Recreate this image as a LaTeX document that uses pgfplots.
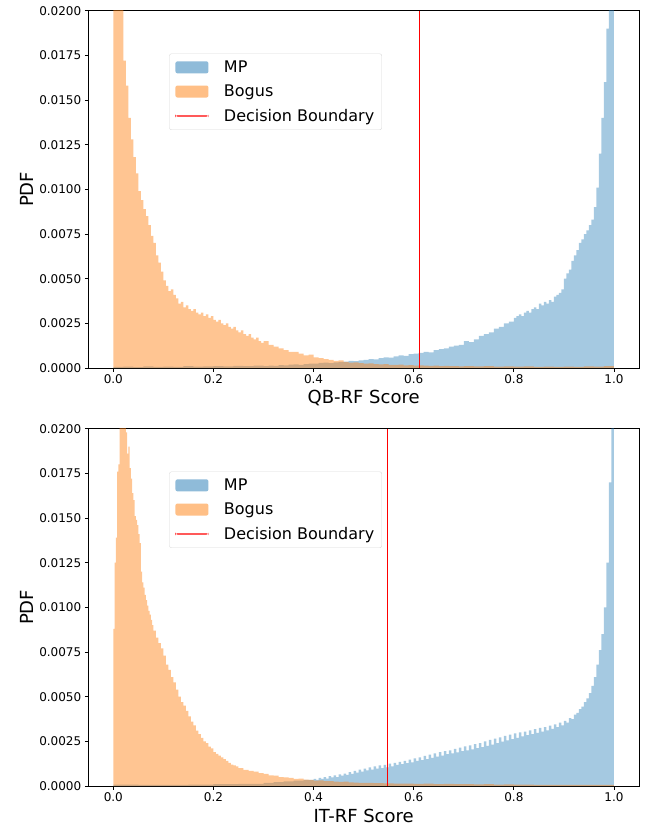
\documentclass[border=0pt]{standalone}
\usepackage{pgfplots}
\pgfplotsset{compat=1.18}
\usepackage{fontspec}
\setmainfont{DejaVu Sans}

\definecolor{tabblue}{HTML}{1F77B4}
\definecolor{taborange}{HTML}{FF7F0E}
\definecolor{legblue}{RGB}{143,187,217}
\definecolor{legorange}{RGB}{255,191,134}
\definecolor{dbred}{RGB}{255,0,0}

\pgfplotsset{
  myaxis/.style={
    scale only axis, width=550.7pt, height=357.3pt,
    anchor=south west,
    xmin=-0.05, xmax=1.05, ymin=0, ymax=0.02,
    xtick={0,0.2,0.4,0.6,0.8,1.0},
    ytick={0,0.0025,0.005,0.0075,0.01,0.0125,0.015,0.0175,0.02},
    scaled y ticks=false, scaled x ticks=false,
    x tick label style={/pgf/number format/.cd, fixed, fixed zerofill, precision=1},
    y tick label style={/pgf/number format/.cd, fixed, fixed zerofill, precision=4},
    /pgf/number format/assume math mode=true,
    tick label style={font=\fontsize{12}{14}\selectfont},
    label style={font=\fontsize{18}{21}\selectfont},
    x label style={at={(axis description cs:0.5,-0.084)}, anchor=center},
    y label style={at={(axis description cs:-0.111,0.5)}, anchor=center},
    ylabel={PDF},
    tick align=outside, tick pos=left, major tick length=3.5pt,
    every tick/.style={black, line width=0.8pt},
    axis line style={line width=0.8pt},
    legend cell align=left,
    legend style={at={(0.147,0.880)}, anchor=north west, draw=black!15,
      rounded corners=2pt, fill=white, fill opacity=0.8, text opacity=1,
      font=\fontsize{16}{19}\selectfont, inner xsep=6pt, inner ysep=5.5pt,
      row sep=8pt, column sep=14pt, nodes={inner sep=1.5pt}},
  },
  mphist/.style={const plot, fill=tabblue, fill opacity=0.4, draw=none,
    legend image code/.code={\fill[legblue, fill opacity=1, draw=none] (0pt,-6pt) rectangle (33pt,6pt);}},
  boghist/.style={const plot, fill=taborange, fill opacity=0.45, draw=none,
    legend image code/.code={\fill[legorange, fill opacity=1, draw=none] (0pt,-6pt) rectangle (33pt,6pt);}},
  dbline/.style={draw=dbred, line width=1pt,
    legend image code/.code={\fill[dbred, fill opacity=1, draw=none] (0pt,-0.6pt) rectangle (33pt,0.6pt);}},
}

\begin{document}
\begin{tikzpicture}
\useasboundingbox (0,0) rectangle (648pt,-829pt);

% ---------------- Top: QB-RF ----------------
\begin{axis}[myaxis, at={(88.3pt,-368pt)}, xlabel={QB-RF Score}]
\addplot[mphist] coordinates {
(0.00,0.00006) (0.02,0.00008) (0.04,0.00005) (0.06,0.00009) (0.08,0.00006)
(0.10,0.00008) (0.12,0.00007) (0.14,0.00010) (0.16,0.00008) (0.18,0.00009)
(0.20,0.00010) (0.22,0.00009) (0.24,0.00012) (0.26,0.00010) (0.28,0.00013)
(0.30,0.00010) (0.31,0.00013) (0.32,0.00012) (0.33,0.00016) (0.34,0.00015)
(0.35,0.00019) (0.36,0.00020) (0.37,0.00018) (0.38,0.00022) (0.39,0.00024)
(0.40,0.00025) (0.41,0.00029) (0.42,0.00030) (0.43,0.00028) (0.44,0.00032)
(0.45,0.00035) (0.46,0.00036) (0.47,0.00040) (0.48,0.00038) (0.49,0.00043)
(0.50,0.00045) (0.51,0.00050) (0.52,0.00048) (0.53,0.00055) (0.54,0.00060)
(0.55,0.00058) (0.56,0.00065) (0.57,0.00070) (0.58,0.00068) (0.59,0.00078)
(0.60,0.00080) (0.61,0.00085) (0.62,0.00090) (0.63,0.00088) (0.64,0.00100)
(0.65,0.00105) (0.66,0.00110) (0.67,0.00120) (0.68,0.00125) (0.69,0.00130)
(0.70,0.00150) (0.71,0.00145) (0.72,0.00160) (0.73,0.00180) (0.74,0.00190)
(0.75,0.00200) (0.76,0.00220) (0.77,0.00230) (0.78,0.00250) (0.79,0.00260)
(0.800,0.00280) (0.805,0.00290) (0.810,0.00300) (0.815,0.00290) (0.820,0.00310)
(0.825,0.00320) (0.830,0.00310) (0.835,0.00330) (0.840,0.00340) (0.845,0.00330)
(0.850,0.00360) (0.855,0.00350) (0.860,0.00370) (0.865,0.00360) (0.870,0.00380)
(0.875,0.00370) (0.880,0.00400) (0.885,0.00410) (0.890,0.00420) (0.895,0.00440)
(0.900,0.00500) (0.905,0.00530) (0.910,0.00550) (0.915,0.00600) (0.920,0.00630)
(0.925,0.00660) (0.930,0.00700) (0.935,0.00720) (0.940,0.00750) (0.945,0.00770)
(0.950,0.00800) (0.955,0.00830) (0.960,0.00900) (0.965,0.01010) (0.970,0.01200)
(0.975,0.01400) (0.980,0.01600) (0.985,0.01900) (0.990,0.03000) (0.995,0.03000)
(1.000,0.03000)
} \closedcycle;
\addlegendentry{MP}
\addplot[boghist] coordinates {
(0.000,0.0300) (0.005,0.0300) (0.010,0.0300) (0.015,0.0300) (0.020,0.0172)
(0.025,0.0158) (0.030,0.0140) (0.035,0.0128) (0.040,0.0118) (0.045,0.0109)
(0.050,0.0099) (0.055,0.0094) (0.060,0.0089) (0.065,0.0085) (0.070,0.0080)
(0.075,0.0074) (0.080,0.0070) (0.085,0.0063) (0.090,0.0059) (0.095,0.0054)
(0.100,0.0049) (0.105,0.0046) (0.110,0.0043) (0.115,0.0044) (0.120,0.0041)
(0.125,0.0039) (0.130,0.0036) (0.135,0.0037) (0.140,0.0034) (0.145,0.0035)
(0.150,0.0033) (0.155,0.0032) (0.160,0.0033) (0.165,0.0031) (0.170,0.0030)
(0.175,0.0031) (0.180,0.0029) (0.185,0.0030) (0.190,0.0028) (0.195,0.0029)
(0.200,0.0027) (0.205,0.0026) (0.210,0.0027) (0.215,0.0025) (0.220,0.0024)
(0.225,0.0025) (0.230,0.0023) (0.235,0.0022) (0.240,0.0023) (0.245,0.0021)
(0.250,0.0020) (0.255,0.0021) (0.260,0.0019) (0.265,0.0018) (0.270,0.0019)
(0.275,0.0017) (0.280,0.0016) (0.285,0.0017) (0.290,0.0015) (0.295,0.0014)
(0.300,0.0015) (0.31,0.0013) (0.32,0.0012) (0.33,0.0011) (0.34,0.0010)
(0.35,0.0009) (0.36,0.0009) (0.37,0.0008) (0.38,0.0007) (0.39,0.00075)
(0.40,0.0006) (0.41,0.00055) (0.42,0.0005) (0.43,0.00045) (0.44,0.0004)
(0.45,0.00042) (0.46,0.00035) (0.47,0.0003) (0.48,0.00032) (0.49,0.00028)
(0.50,0.00025) (0.51,0.00026) (0.52,0.00022) (0.53,0.0002) (0.54,0.00022)
(0.55,0.00018) (0.56,0.00017) (0.57,0.00019) (0.58,0.00015) (0.59,0.00016)
(0.60,0.00014) (0.61,0.00015) (0.62,0.00013) (0.63,0.00012) (0.64,0.00014)
(0.65,0.00011) (0.66,0.00012) (0.67,0.00010) (0.68,0.00011) (0.69,0.00009)
(0.70,0.00010) (0.72,0.00009) (0.74,0.00010) (0.76,0.00008) (0.78,0.00009)
(0.80,0.00008) (0.82,0.00009) (0.84,0.00007) (0.86,0.00008) (0.88,0.00007)
(0.90,0.00008) (0.92,0.00007) (0.94,0.00009) (0.96,0.00008) (0.98,0.00010)
(1.00,0.00010)
} \closedcycle;
\addlegendentry{Bogus}
\addplot[dbline] coordinates {(0.611,0) (0.611,0.02)};
\addlegendentry{Decision Boundary}
\end{axis}

% ---------------- Bottom: IT-RF ----------------
\begin{axis}[myaxis, at={(88.3pt,-786pt)}, xlabel={IT-RF Score}]
\addplot[mphist] coordinates {
(0.00,0.00008) (0.05,0.00006) (0.10,0.00007) (0.15,0.00008) (0.20,0.00010)
(0.25,0.00012) (0.30,0.00018) (0.32,0.00022) (0.34,0.00026) (0.36,0.00030)
(0.38,0.00035)
(0.400,0.00040) (0.405,0.00035) (0.410,0.00045) (0.415,0.00040) (0.420,0.00050)
(0.425,0.00042) (0.430,0.00055) (0.435,0.00048) (0.440,0.00060) (0.445,0.00050)
(0.450,0.00065) (0.455,0.00058) (0.460,0.00070) (0.465,0.00062) (0.470,0.00078)
(0.475,0.00068) (0.480,0.00085) (0.485,0.00075) (0.490,0.00092) (0.495,0.00080)
(0.500,0.00098) (0.505,0.00088) (0.510,0.00105) (0.515,0.00092) (0.520,0.00110)
(0.525,0.00098) (0.530,0.00115) (0.535,0.00100) (0.540,0.00118) (0.545,0.00105)
(0.550,0.00125) (0.555,0.00110) (0.560,0.00130) (0.565,0.00118) (0.570,0.00135)
(0.575,0.00122) (0.580,0.00140) (0.585,0.00128) (0.590,0.00148) (0.595,0.00132)
(0.600,0.00155) (0.605,0.00140) (0.610,0.00160) (0.615,0.00145) (0.620,0.00168)
(0.625,0.00150) (0.630,0.00175) (0.635,0.00158) (0.640,0.00182) (0.645,0.00165)
(0.650,0.00190) (0.655,0.00170) (0.660,0.00195) (0.665,0.00178) (0.670,0.00200)
(0.675,0.00182) (0.680,0.00208) (0.685,0.00188) (0.690,0.00215) (0.695,0.00195)
(0.700,0.00222) (0.705,0.00200) (0.710,0.00228) (0.715,0.00205) (0.720,0.00235)
(0.725,0.00212) (0.730,0.00240) (0.735,0.00218) (0.740,0.00250) (0.745,0.00225)
(0.750,0.00258) (0.755,0.00232) (0.760,0.00265) (0.765,0.00240) (0.770,0.00272)
(0.775,0.00248) (0.780,0.00280) (0.785,0.00255) (0.790,0.00288) (0.795,0.00262)
(0.800,0.00295) (0.805,0.00270) (0.810,0.00300) (0.815,0.00278) (0.820,0.00305)
(0.825,0.00285) (0.830,0.00312) (0.835,0.00290) (0.840,0.00318) (0.845,0.00298)
(0.850,0.00325) (0.855,0.00305) (0.860,0.00330) (0.865,0.00312) (0.870,0.00338)
(0.875,0.00320) (0.880,0.00345) (0.885,0.00330) (0.890,0.00355) (0.895,0.00340)
(0.900,0.00365) (0.905,0.00355) (0.910,0.00380) (0.915,0.00375) (0.920,0.00400)
(0.925,0.00410) (0.930,0.00430) (0.935,0.00445) (0.940,0.00470) (0.945,0.00490)
(0.950,0.00520) (0.955,0.00560) (0.960,0.00610) (0.965,0.00680) (0.970,0.00760)
(0.975,0.00850) (0.980,0.01000) (0.985,0.01250) (0.990,0.01700) (0.995,0.03000)
(1.000,0.03000)
} \closedcycle;
\addlegendentry{MP}
\addplot[boghist] coordinates {
(0.0000,0.0088) (0.0025,0.0125) (0.0050,0.0139) (0.0075,0.0176) (0.0100,0.0180)
(0.0125,0.0300) (0.0150,0.0300) (0.0175,0.0300) (0.0200,0.0300) (0.0225,0.0300)
(0.0250,0.0198) (0.0275,0.0186) (0.0300,0.0190) (0.0325,0.0178) (0.0350,0.0172)
(0.0375,0.0164) (0.0400,0.0160) (0.0425,0.0151) (0.0450,0.0149) (0.0475,0.0146)
(0.0500,0.0141) (0.0525,0.0136) (0.0550,0.0120) (0.0575,0.0114) (0.0600,0.0111)
(0.0625,0.0107) (0.0650,0.0104) (0.0675,0.0101) (0.0700,0.0098) (0.0725,0.0096)
(0.0750,0.0093) (0.0775,0.0090) (0.0800,0.0087) (0.0850,0.0083) (0.0900,0.0080)
(0.0950,0.0077) (0.1000,0.0073) (0.1050,0.0068) (0.1100,0.0065) (0.1150,0.0061)
(0.1200,0.0058) (0.1250,0.0054) (0.1300,0.0050) (0.1350,0.0047) (0.1400,0.0045)
(0.1450,0.0042) (0.1500,0.0039) (0.1550,0.0036) (0.1600,0.0034) (0.1650,0.0031)
(0.1700,0.0029) (0.1750,0.0027) (0.1800,0.0025) (0.1850,0.0024) (0.1900,0.0022)
(0.1950,0.0021) (0.2000,0.0019) (0.2050,0.0018) (0.2100,0.0017) (0.2150,0.0016)
(0.2200,0.0015) (0.2250,0.0014) (0.2300,0.0013) (0.2350,0.0012) (0.2400,0.00115)
(0.2450,0.0011) (0.2500,0.0010) (0.26,0.0009) (0.27,0.00085) (0.28,0.0008)
(0.29,0.00072) (0.30,0.00068) (0.31,0.0006) (0.32,0.00058) (0.33,0.0005)
(0.34,0.00048) (0.35,0.00045) (0.36,0.0004) (0.37,0.00042) (0.38,0.00036)
(0.39,0.00035) (0.40,0.0003) (0.41,0.00032) (0.42,0.00028) (0.43,0.00027)
(0.44,0.00025) (0.45,0.00023) (0.46,0.00024) (0.47,0.0002) (0.48,0.00019)
(0.49,0.00018) (0.50,0.00017) (0.52,0.00016) (0.54,0.00015) (0.56,0.00014)
(0.58,0.00013) (0.60,0.00012) (0.62,0.00013) (0.64,0.00011) (0.66,0.00012)
(0.68,0.00010) (0.70,0.00010) (0.72,0.00009) (0.74,0.00010) (0.76,0.00008)
(0.78,0.00009) (0.80,0.00008) (0.84,0.00007) (0.88,0.00007) (0.92,0.00006)
(0.96,0.00007) (1.00,0.00007)
} \closedcycle;
\addlegendentry{Bogus}
\addplot[dbline] coordinates {(0.547,0) (0.547,0.02)};
\addlegendentry{Decision Boundary}
\end{axis}
\end{tikzpicture}
\end{document}
